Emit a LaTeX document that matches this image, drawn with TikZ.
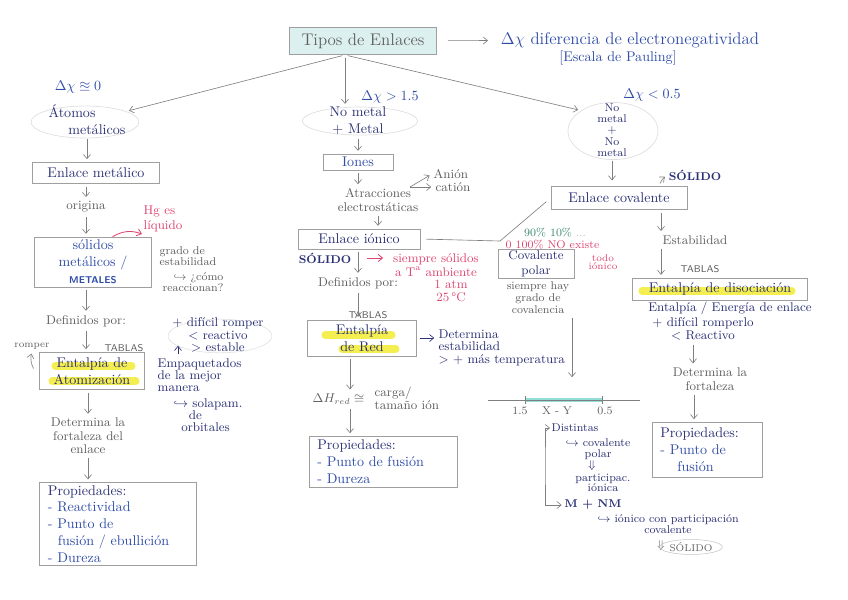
\documentclass[tikz,border=0pt]{standalone}
\usepackage{amsmath,amssymb}
\usetikzlibrary{arrows.meta,shapes.geometric}

\definecolor{navy}{HTML}{2B3175}
\definecolor{inkblue}{HTML}{2F4CA6}
\definecolor{pencil}{HTML}{5F5F5F}
\definecolor{rosa}{HTML}{DE4670}
\definecolor{verde}{HTML}{3A8A6A}
\definecolor{marker}{HTML}{F4EE50}
\definecolor{celeste}{HTML}{DCF0EF}
\definecolor{aqua}{HTML}{92DDD5}

\begin{document}
\begin{tikzpicture}[
    x=0.025cm, y=-0.025cm,
    >={Straight Barb[length=3pt,width=5pt]},
    box/.style={
        draw=gray!75, line width=0.5pt,
        inner sep=2pt, align=center,
    },
    oval/.style={draw=gray!25, line width=0.5pt, ellipse, inner sep=0pt},
    ink/.style={text=navy, align=center, inner sep=1pt, font=\small},
    blueink/.style={text=inkblue, align=center, inner sep=1pt, font=\small},
    pencilnote/.style={text=pencil, align=center, inner sep=1pt, font=\small},
    pinknote/.style={text=rosa, align=center, inner sep=1pt, font=\small},
    tablas/.style={text=pencil, inner sep=1pt, font=\sffamily\scriptsize},
    arr/.style={->, draw=pencil!80, line width=0.45pt,
        shorten <=2pt, shorten >=2pt},
    pinkarr/.style={->, draw=rosa, line width=0.6pt},
    hl/.style={draw=marker, line width=5pt, line cap=round},
]
\useasboundingbox (0,0) rectangle (848,599);

% ── marker strokes (drawn first, under the text) ────────────
\draw[hl] (55,366) -- (132,366);
\draw[hl] (52,381) -- (136,381);
\draw[hl] (325,335) -- (392,335);
\draw[hl] (342,349) -- (396,349);
\draw[hl] (642,291) -- (792,291);

% ── Title ───────────────────────────────────────────────────
\node[box, fill=celeste, text=pencil, font=\large,
      minimum width=3.68cm, minimum height=0.68cm] (tipos) at (363,41) {Tipos de Enlaces};
\node[blueink, font=\large] (diff) at (630,40) {$\Delta\chi$ diferencia de electronegatividad};
\node[blueink, font=\normalsize] (pauling) at (618,58) {[Escala de Pauling]};
\draw[arr, shorten <=8pt, shorten >=8pt] (tipos) -- (diff);
\coordinate (split) at ([xshift=-0.45cm]tipos.south);

% ── Metallic bond ───────────────────────────────────────────
\node[blueink, font=\normalsize] (dxcero) at (78,87) {$\Delta\chi \approxeq 0$};
\node[oval, minimum width=2.7cm, minimum height=0.8cm] (atomos) at (85,122) {};
\node[ink, font=\normalsize, align=left] (atomostxt) at (87,120) {Átomos\\\hspace*{1.4em}metálicos};
\node[box, text=navy, minimum width=3.18cm, minimum height=0.53cm] (metalico) at (96,173) {Enlace metálico};
\node[pencilnote] (origina) at (86,207) {origina};
\node[box, text=inkblue, minimum width=2.93cm, minimum height=1.25cm] (solidos) at (93,262)
    {sólidos\\metálicos /\\{\sffamily\scriptsize\bfseries METALES}};
\node[pinknote, align=left] (hg) at (163,219) {Hg es\\líquido};
\node[pencilnote, font=\footnotesize, align=left, anchor=west] (grado) at (158,256) {grado de\\[-1.5pt]estabilidad};
\node[pencilnote, font=\footnotesize, align=right, anchor=north west] (reacc) at (161,271)
    {$\hookrightarrow$ ¿cómo\\[-1.5pt]reaccionan?};
\node[pencilnote] (definidos1) at (86,321) {Definidos por:};
\node[tablas] (tablas1) at (124,348) {TABLAS};
\node[pencilnote, font=\scriptsize] (romper) at (32,346) {romper};
\node[box, text=navy, minimum width=2.63cm, minimum height=0.93cm] (atom) at (92,371) {Entalpía de\\Atomización};
\draw[gray!25] (220,336) ellipse [x radius=1.3cm, y radius=0.42cm];
\node[ink] (dificil) at (218,335) {+ difícil romper\\[-2pt]< reactivo\\[-2pt]> estable};
\node[ink, align=left, anchor=north west] (empaq) at (156,357) {Empaquetados\\[-2.5pt]de la mejor\\[-2.5pt]manera};
\node[ink, align=left, anchor=north west] (solapam) at (172,397)
    {$\hookrightarrow$ solapam.\\[-2.5pt]\hspace*{1.2em}de\\[-2.5pt]\hspace*{0.6em}orbitales};
\node[pencilnote] (determina1) at (88,436) {Determina la\\[-1.5pt]fortaleza del\\[-1.5pt]enlace};
\node[box, text=inkblue, align=left, inner xsep=6pt, text width=3.5cm,
      minimum height=2.05cm] (prop1) at (118,524)
    {\textcolor{navy}{Propiedades:}\\- Reactividad\\- Punto de\\\hspace*{0.7em}fusión / ebullición\\- Dureza};

\draw[arr] (split) -- (atomos);
\draw[arr] (atomostxt.south) -- (atomostxt.south |- metalico.north);
\draw[arr] (metalico.south -| origina) -- (origina.north);
\draw[arr] (origina.south) -- (origina.south |- solidos.north);
\draw[pinkarr] ([xshift=14pt]solidos.north) to[bend left=25] (hg.south west);
\draw[arr] (solidos.south -| definidos1) -- (definidos1.north);
\draw[arr] (definidos1.south) -- (definidos1.south |- atom.north);
\draw[arr] ([xshift=-3pt]atom.west) to[bend left=20] (romper.south);
\draw[arr, draw=navy] ([xshift=0.55cm]empaq.north west)
    -- ([xshift=0.55cm, yshift=-0.2cm]empaq.north west |- dificil);
\draw[arr] (atom.south -| determina1) -- (determina1.north);
\draw[arr] (determina1.south) -- (determina1.south |- prop1.north);

% ── Ionic bond ──────────────────────────────────────────────
\node[blueink, font=\normalsize] (dxgt) at (390,97) {$\Delta\chi > 1.5$};
\node[oval, minimum width=2.88cm, minimum height=0.7cm] (nometal) at (360,121) {};
\node[ink, font=\normalsize] (nometaltxt) at (358,121) {No metal\\+ Metal};
\node[box, text=inkblue, minimum width=1.75cm, minimum height=0.4cm, inner sep=1pt] (iones) at (358,162) {Iones};
\node[pencilnote] (atracc) at (378,200) {Atracciones\\[-1.5pt]electrostáticas};
\node[pencilnote, anchor=west] (anion) at (432,174) {Anión};
\node[pencilnote, anchor=west] (cation) at (434,187) {catión};
\coordinate (fork) at (410,187);
\node[box, text=navy, minimum width=3.05cm, minimum height=0.5cm] (ionico) at (359,239) {Enlace iónico};
\coordinate (kink) at (500,241);
\node[ink, font=\footnotesize\bfseries] (solido1) at (325,258) {SÓLIDO};
\node[pinknote] (siempre) at (436,265) {siempre sólidos\\[-1.5pt]a T\textsuperscript{a} ambiente};
\node[pinknote] (atm) at (451,291) {1 atm\\[-1.5pt]25\,°C};
\node[pencilnote] (definidos2) at (358,283) {Definidos por:};
\node[tablas] (tablas2) at (368,315) {TABLAS};
\node[box, text=navy, minimum width=2.73cm, minimum height=0.9cm] (red) at (362,338) {Entalpía\\de Red};
\node[ink, align=left, anchor=north west] (determina2) at (437,328)
    {Determina\\[-2pt]estabilidad\\[-2pt]> + más temperatura};
\node[pencilnote, anchor=east] (dhred) at (366,399) {$\Delta H_{red} \cong$};
\node[pencilnote, align=left, anchor=west] (carga) at (373,398) {carga/\\[-2pt]tamaño ión};
\node[box, text=inkblue, align=left, inner xsep=6pt, text width=3.28cm,
      minimum height=1.28cm] (prop2) at (383,462)
    {\textcolor{navy}{Propiedades:}\\- Punto de fusión\\- Dureza};

\draw[arr] (split) -- (split |- nometal.north);
\draw[arr] (nometaltxt.south) -- (nometaltxt.south |- iones.north);
\draw[arr] (iones.south) -- (iones.south |- atracc.north);
\draw[arr, shorten <=0pt] (fork) -- (anion.west);
\draw[arr, shorten <=0pt] (fork) -- (cation.west);
\draw[arr] (atracc.south) -- (atracc.south |- ionico.north);
\draw[pinkarr, shorten <=10pt, shorten >=6pt] (solido1.east) -- (solido1.east -| siempre.west);
\draw[arr] (ionico.south -| definidos2) -- (definidos2.north);
\draw[arr] (definidos2.south) -- (definidos2.south |- red.north);
\draw[arr, draw=navy] (red.east) -- (red.east -| determina2.west);
\draw[arr] ([xshift=-0.3cm]red.south) -- ([xshift=-0.3cm]red.south |- dhred.north);
\draw[arr] ([xshift=-0.3cm]red.south |- dhred.south) -- ([xshift=-0.3cm]red.south |- prop2.north);

% ── Covalent bond ───────────────────────────────────────────
\node[blueink, font=\normalsize] (dxlt) at (652,95) {$\Delta\chi < 0.5$};
\node[oval, minimum width=2.25cm, minimum height=1.43cm] (nono) at (613,131) {};
\node[ink, font=\footnotesize] (nonotxt) at (612,130) {No\\[-1.5pt]metal\\[-1.5pt]+\\[-1.5pt]No\\[-1.5pt]metal};
\node[ink, font=\footnotesize\bfseries] (solido3) at (695,175) {SÓLIDO};
\node[box, text=navy, minimum width=3.4cm, minimum height=0.58cm] (covalente) at (619,198) {Enlace covalente};
\node[pencilnote] (estab) at (695,240) {Estabilidad};
\node[tablas] (tablas3) at (700,269) {TABLAS};
\node[box, text=navy, minimum width=4.38cm, minimum height=0.55cm] (disoc) at (720,289) {Entalpía de disociación};
\node[ink] (energia) at (730,308) {Entalpía / Energía de enlace};
\node[ink] (romperlo) at (703,329) {+ difícil romperlo\\[-2pt]< Reactivo};
\node[pencilnote] (determina3) at (710,379) {Determina la\\[-1.5pt]fortaleza};
\node[box, text=inkblue, align=left, inner xsep=6pt, text width=2.33cm,
      minimum height=1.38cm] (prop3) at (707,450)
    {\textcolor{navy}{Propiedades:}\\- Punto de\\\hspace*{1.2em}fusión};

\draw[arr] (split) -- (nono.north west);
\draw[arr, shorten >=4pt] (nonotxt.south) -- (nonotxt.south |- covalente.north);
\draw[arr] ([xshift=1cm]covalente.north) to[bend left=15] (solido3.west);
\draw[arr] (covalente.south -| estab.west) -- (estab.west |- estab.north);
\draw[arr] (estab.south west) -- (estab.south west |- disoc.north);
\draw[arr] ([xshift=-0.25cm]romperlo.south) -- ([xshift=-0.25cm]romperlo.south |- determina3.north);
\draw[arr] ([xshift=-0.4cm]determina3.south) -- ([xshift=-0.4cm]determina3.south |- prop3.north);
% ionic -- covalent link
\draw[draw=pencil!80, line width=0.45pt, shorten <=4pt, shorten >=4pt]
    (ionico.east) -- (kink) -- (covalente.west);

% ── Polar covalent and the X-Y scale ────────────────────────
\node[text=verde, font=\footnotesize, inner sep=1pt] (pct1) at (555,233) {90\% 10\% \textcolor{pencil!40}{...}};
\node[pinknote, font=\footnotesize, anchor=west] (pct2) at (504,245) {0 100\% NO existe};
\node[pinknote, font=\scriptsize] (todo) at (603,262) {todo\\[-2pt]iónico};
\node[box, text=navy, font=\small, minimum width=1.9cm, minimum height=0.7cm, inner sep=1pt] (polar) at (536,264) {Covalente\\polar};
\node[pencilnote, font=\footnotesize] (siemprehay) at (538,298) {siempre hay\\[-1pt]grado de\\[-1pt]covalencia};
\coordinate (escala) at (572,380);
\draw[arr] (siemprehay.south -| escala) -- (escala);

\coordinate (nlL) at (488,400);
\coordinate (nlR) at (640,400);
\draw[aqua, line width=2.5pt] (525,400) -- (602,400);
\draw[pencil!80, line width=0.45pt] (nlL) -- (nlR);
\foreach \t in {525, 602} {
    \draw[pencil!80, line width=0.45pt] (\t,396) -- (\t,404);
}
\node[pencilnote, font=\footnotesize] (uno) at (520,411) {1.5};
\node[pencilnote, font=\footnotesize] (xy) at (557,411) {X - Y};
\node[pencilnote, font=\footnotesize] (cero) at (605,411) {0.5};

\node[ink, font=\footnotesize, anchor=west] (distintas) at (550,428) {Distintas};
\node[ink, font=\footnotesize] (covpolar) at (598,449) {$\hookrightarrow$ covalente\\[-2pt]polar};
\node[ink, font=\footnotesize] (flecha1) at (592,466) {$\Downarrow$};
\node[ink, font=\footnotesize] (particip) at (603,483) {participac.\\[-2pt]iónica};
\node[ink, font=\footnotesize\bfseries, anchor=west] (mnm) at (563,505) {M + NM};
\node[ink, font=\footnotesize] (ionicocon) at (668,524) {$\hookrightarrow$ iónico con participación\\[-2pt]covalente};
\node[pencilnote, font=\footnotesize] (flecha2) at (661,546) {$\Downarrow$};
\node[draw=gray!45, ellipse, inner sep=0.5pt, text=pencil, font=\scriptsize] (solido4) at (691,547) {SÓLIDO};
\coordinate (brk) at (545,465);
\draw[arr, <->, shorten <=0pt, shorten >=1pt] (distintas.west) -| (brk) |- (mnm.west);

\end{tikzpicture}
\end{document}
